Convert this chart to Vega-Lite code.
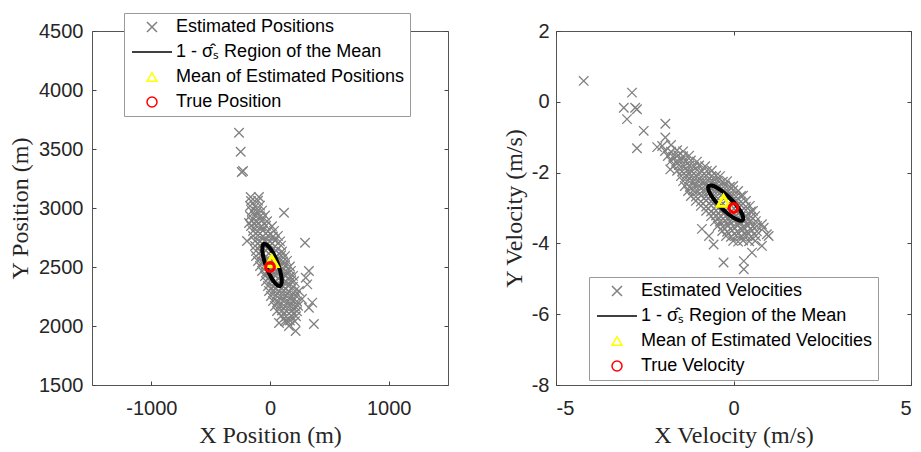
{
  "$schema": "https://vega.github.io/schema/vega-lite/v6.json",
  "autosize": {"type": "pad"},
  "padding": {"left": 8, "top": 12, "right": 7, "bottom": 0},
  "bounds": "flush",
  "spacing": 108,
  "background": "white",
  "resolve": {"scale": {"stroke": "independent", "shape": "independent"}, "legend": {"stroke": "independent", "shape": "independent"}},
  "config": {
    "view": {"stroke": "#555555", "strokeWidth": 1},
    "axis": {"grid": false, "domain": false, "tickColor": "#444444", "tickSize": -4, "tickWidth": 1, "labelExpr": "'' + datum.value",
      "labelFont": "Liberation Sans", "labelFontSize": 20, "labelColor": "#262626", "labelPadding": 12,
      "titleFont": "Liberation Serif", "titleFontSize": 24, "titleFontWeight": "normal", "titleColor": "#262626"},
    "legend": {"labelFont": "Liberation Sans", "labelFontSize": 18, "labelColor": "#000000", "strokeColor": "#9a9a9a",
      "fillColor": "#ffffff", "padding": 5, "rowPadding": 7, "symbolOffset": 14, "labelOffset": 15, "cornerRadius": 0, "labelLimit": 400}
  },
  "datasets": {
    "pos": [
      {"x":-261,"y":3638},{"x":-247,"y":3477},{"x":-238,"y":3305},{"x":-227,"y":3313},{"x":-163,"y":3093},{"x":-93,"y":3093},{"x":118,"y":2960},{"x":295,"y":2706},{"x":328,"y":2466},{"x":301,"y":2409},{"x":314,"y":2353},{"x":356,"y":2198},{"x":328,"y":2155},{"x":370,"y":2017},{"x":216,"y":1958},{"x":146,"y":2043},{"x":244,"y":2297},{"x":269,"y":2229},{"x":160,"y":2000},{"x":76,"y":2026},{"x":-177,"y":2873},{"x":-194,"y":2720},
      {"x":-160,"y":3059},{"x":-101,"y":3062},
      {"x":-168,"y":3017},{"x":-126,"y":3012},{"x":-84,"y":3020},
      {"x":-152,"y":2974},{"x":-109,"y":2970},{"x":-67,"y":2978},
      {"x":-168,"y":2932},{"x":-126,"y":2935},{"x":-84,"y":2928},{"x":-42,"y":2936},
      {"x":-152,"y":2890},{"x":-109,"y":2885},{"x":-67,"y":2893},{"x":-25,"y":2888},
      {"x":-160,"y":2847},{"x":-118,"y":2850},{"x":-76,"y":2843},{"x":-34,"y":2849},{"x":17,"y":2845},
      {"x":-143,"y":2805},{"x":-101,"y":2800},{"x":-59,"y":2808},{"x":-17,"y":2803},{"x":34,"y":2806},
      {"x":-143,"y":2763},{"x":-101,"y":2768},{"x":-59,"y":2760},{"x":-17,"y":2765},{"x":25,"y":2759},{"x":67,"y":2764},
      {"x":-126,"y":2720},{"x":-84,"y":2716},{"x":-42,"y":2723},{"x":0,"y":2718},{"x":42,"y":2724},{"x":84,"y":2717},
      {"x":-126,"y":2678},{"x":-84,"y":2682},{"x":-42,"y":2675},{"x":0,"y":2680},{"x":42,"y":2676},{"x":93,"y":2681},
      {"x":-118,"y":2636},{"x":-76,"y":2632},{"x":-34,"y":2639},{"x":8,"y":2634},{"x":51,"y":2638},{"x":101,"y":2631},
      {"x":-118,"y":2593},{"x":-76,"y":2597},{"x":-34,"y":2590},{"x":8,"y":2595},{"x":51,"y":2591},{"x":93,"y":2598},{"x":126,"y":2592},
      {"x":-101,"y":2551},{"x":-59,"y":2547},{"x":-17,"y":2554},{"x":25,"y":2549},{"x":67,"y":2553},{"x":109,"y":2546},{"x":143,"y":2552},
      {"x":-84,"y":2508},{"x":-42,"y":2512},{"x":0,"y":2505},{"x":42,"y":2510},{"x":84,"y":2506},{"x":126,"y":2511},{"x":168,"y":2504},
      {"x":-67,"y":2466},{"x":-25,"y":2462},{"x":17,"y":2469},{"x":59,"y":2464},{"x":101,"y":2468},{"x":143,"y":2461},{"x":177,"y":2467},
      {"x":-42,"y":2424},{"x":0,"y":2420},{"x":42,"y":2427},{"x":84,"y":2422},{"x":126,"y":2426},{"x":168,"y":2419},{"x":194,"y":2425},
      {"x":-34,"y":2381},{"x":8,"y":2385},{"x":51,"y":2378},{"x":93,"y":2383},{"x":135,"y":2379},{"x":177,"y":2384},{"x":202,"y":2380},
      {"x":-17,"y":2339},{"x":25,"y":2335},{"x":67,"y":2342},{"x":109,"y":2337},{"x":152,"y":2341},{"x":194,"y":2334},
      {"x":-8,"y":2297},{"x":34,"y":2300},{"x":76,"y":2294},{"x":118,"y":2299},{"x":160,"y":2293},{"x":210,"y":2298},
      {"x":8,"y":2254},{"x":51,"y":2258},{"x":93,"y":2251},{"x":135,"y":2256},{"x":177,"y":2252},{"x":219,"y":2257},
      {"x":25,"y":2212},{"x":67,"y":2208},{"x":109,"y":2215},{"x":152,"y":2210},{"x":194,"y":2214},{"x":227,"y":2209},
      {"x":42,"y":2170},{"x":84,"y":2173},{"x":126,"y":2166},{"x":168,"y":2171},{"x":210,"y":2167},{"x":236,"y":2172},
      {"x":59,"y":2127},{"x":101,"y":2131},{"x":143,"y":2124},{"x":185,"y":2129},{"x":227,"y":2125},
      {"x":93,"y":2085},{"x":135,"y":2081},{"x":177,"y":2088},{"x":219,"y":2083},
      {"x":126,"y":2043},{"x":168,"y":2046},{"x":210,"y":2040}
    ],
    "posEll": [
      {"i":0,"x":84,"y":2339},{"i":1,"x":97,"y":2359},{"i":2,"x":98,"y":2404},{"i":3,"x":86,"y":2466},
      {"i":4,"x":64,"y":2535},{"i":5,"x":35,"y":2602},{"i":6,"x":3,"y":2656},{"i":7,"x":-27,"y":2688},
      {"i":8,"x":-50,"y":2695},{"i":9,"x":-63,"y":2675},{"i":10,"x":-64,"y":2630},{"i":11,"x":-52,"y":2568},
      {"i":12,"x":-30,"y":2499},{"i":13,"x":-1,"y":2432},{"i":14,"x":31,"y":2378},{"i":15,"x":61,"y":2346}
    ],
    "vel": [
      {"x":-4.22,"y":0.59},{"x":-2.86,"y":0.26},{"x":-3.09,"y":-0.17},{"x":-2.77,"y":-0.17},{"x":-3.0,"y":-0.49},{"x":-2.72,"y":-0.21},{"x":-2.53,"y":-0.82},{"x":-1.92,"y":-0.62},{"x":-2.72,"y":-1.31},{"x":-2.15,"y":-1.28},{"x":-1.92,"y":-1.01},{"x":-1.78,"y":-1.91},{"x":-0.56,"y":-4.03},{"x":-0.28,"y":-4.54},{"x":0.29,"y":-4.5},{"x":0.29,"y":-4.73},{"x":0.52,"y":-4.26},{"x":0.94,"y":-3.74},{"x":0.8,"y":-3.46},{"x":0.8,"y":-4.07},{"x":-0.69,"y":-3.79},{"x":-0.89,"y":-3.59},{"x":0.85,"y":-3.56},{"x":0.99,"y":-3.79},
      {"x":-2.01,"y":-1.25},{"x":-1.76,"y":-1.22},
      {"x":-1.93,"y":-1.39},{"x":-1.76,"y":-1.41},{"x":-1.59,"y":-1.37},{"x":-1.42,"y":-1.4},
      {"x":-1.85,"y":-1.53},{"x":-1.7,"y":-1.55},{"x":-1.56,"y":-1.51},{"x":-1.42,"y":-1.54},{"x":-1.25,"y":-1.52},
      {"x":-1.76,"y":-1.67},{"x":-1.62,"y":-1.69},{"x":-1.48,"y":-1.65},{"x":-1.34,"y":-1.68},{"x":-1.2,"y":-1.66},{"x":-1.03,"y":-1.69},
      {"x":-1.68,"y":-1.81},{"x":-1.54,"y":-1.79},{"x":-1.39,"y":-1.82},{"x":-1.25,"y":-1.8},{"x":-1.11,"y":-1.83},{"x":-0.97,"y":-1.8},{"x":-0.8,"y":-1.82},
      {"x":-1.59,"y":-1.95},{"x":-1.45,"y":-1.97},{"x":-1.31,"y":-1.94},{"x":-1.17,"y":-1.96},{"x":-1.03,"y":-1.93},{"x":-0.89,"y":-1.97},{"x":-0.75,"y":-1.95},{"x":-0.61,"y":-1.94},
      {"x":-1.48,"y":-2.1},{"x":-1.34,"y":-2.08},{"x":-1.2,"y":-2.11},{"x":-1.06,"y":-2.09},{"x":-0.92,"y":-2.12},{"x":-0.77,"y":-2.08},{"x":-0.63,"y":-2.11},{"x":-0.49,"y":-2.09},{"x":-0.38,"y":-2.1},
      {"x":-1.42,"y":-2.24},{"x":-1.28,"y":-2.22},{"x":-1.14,"y":-2.25},{"x":-1.0,"y":-2.23},{"x":-0.86,"y":-2.26},{"x":-0.72,"y":-2.22},{"x":-0.58,"y":-2.25},{"x":-0.44,"y":-2.23},{"x":-0.3,"y":-2.26},{"x":-0.18,"y":-2.24},
      {"x":-1.37,"y":-2.38},{"x":-1.23,"y":-2.4},{"x":-1.08,"y":-2.37},{"x":-0.94,"y":-2.39},{"x":-0.8,"y":-2.36},{"x":-0.66,"y":-2.4},{"x":-0.52,"y":-2.37},{"x":-0.38,"y":-2.39},{"x":-0.24,"y":-2.36},{"x":-0.1,"y":-2.4},{"x":-0.01,"y":-2.38},
      {"x":-1.28,"y":-2.52},{"x":-1.14,"y":-2.5},{"x":-1.0,"y":-2.53},{"x":-0.86,"y":-2.51},{"x":-0.72,"y":-2.54},{"x":-0.58,"y":-2.5},{"x":-0.44,"y":-2.53},{"x":-0.3,"y":-2.51},{"x":-0.15,"y":-2.54},{"x":-0.01,"y":-2.5},{"x":0.13,"y":-2.52},
      {"x":-1.2,"y":-2.66},{"x":-1.06,"y":-2.68},{"x":-0.92,"y":-2.65},{"x":-0.77,"y":-2.67},{"x":-0.63,"y":-2.64},{"x":-0.49,"y":-2.68},{"x":-0.35,"y":-2.65},{"x":-0.21,"y":-2.67},{"x":-0.07,"y":-2.64},{"x":0.07,"y":-2.68},{"x":0.21,"y":-2.66},{"x":0.27,"y":-2.65},
      {"x":-1.06,"y":-2.8},{"x":-0.92,"y":-2.82},{"x":-0.77,"y":-2.79},{"x":-0.63,"y":-2.81},{"x":-0.49,"y":-2.78},{"x":-0.35,"y":-2.82},{"x":-0.21,"y":-2.79},{"x":-0.07,"y":-2.81},{"x":0.07,"y":-2.78},{"x":0.21,"y":-2.82},{"x":0.35,"y":-2.8},
      {"x":-0.92,"y":-2.94},{"x":-0.77,"y":-2.96},{"x":-0.63,"y":-2.93},{"x":-0.49,"y":-2.95},{"x":-0.35,"y":-2.92},{"x":-0.21,"y":-2.96},{"x":-0.07,"y":-2.93},{"x":0.07,"y":-2.95},{"x":0.21,"y":-2.92},{"x":0.35,"y":-2.96},{"x":0.46,"y":-2.94},
      {"x":-0.77,"y":-3.08},{"x":-0.63,"y":-3.1},{"x":-0.49,"y":-3.07},{"x":-0.35,"y":-3.09},{"x":-0.21,"y":-3.06},{"x":-0.07,"y":-3.1},{"x":0.07,"y":-3.07},{"x":0.21,"y":-3.09},{"x":0.35,"y":-3.06},{"x":0.49,"y":-3.1},{"x":0.55,"y":-3.08},
      {"x":-0.63,"y":-3.23},{"x":-0.49,"y":-3.21},{"x":-0.35,"y":-3.24},{"x":-0.21,"y":-3.22},{"x":-0.07,"y":-3.25},{"x":0.07,"y":-3.21},{"x":0.21,"y":-3.24},{"x":0.35,"y":-3.22},{"x":0.49,"y":-3.25},{"x":0.61,"y":-3.23},
      {"x":-0.52,"y":-3.37},{"x":-0.38,"y":-3.39},{"x":-0.24,"y":-3.36},{"x":-0.1,"y":-3.38},{"x":0.04,"y":-3.35},{"x":0.18,"y":-3.39},{"x":0.32,"y":-3.36},{"x":0.46,"y":-3.38},{"x":0.63,"y":-3.37},
      {"x":-0.44,"y":-3.51},{"x":-0.3,"y":-3.53},{"x":-0.15,"y":-3.5},{"x":-0.01,"y":-3.52},{"x":0.13,"y":-3.49},{"x":0.27,"y":-3.53},{"x":0.41,"y":-3.5},{"x":0.55,"y":-3.52},{"x":0.66,"y":-3.51},
      {"x":-0.32,"y":-3.65},{"x":-0.18,"y":-3.67},{"x":-0.04,"y":-3.64},{"x":0.1,"y":-3.66},{"x":0.24,"y":-3.63},{"x":0.38,"y":-3.67},{"x":0.52,"y":-3.64},{"x":0.66,"y":-3.66},
      {"x":-0.21,"y":-3.79},{"x":-0.07,"y":-3.81},{"x":0.07,"y":-3.78},{"x":0.21,"y":-3.8},{"x":0.35,"y":-3.77},{"x":0.49,"y":-3.81},{"x":0.63,"y":-3.79},
      {"x":-0.01,"y":-3.93},{"x":0.13,"y":-3.95},{"x":0.27,"y":-3.92},{"x":0.44,"y":-3.94},{"x":0.61,"y":-3.93}
    ],
    "velEll": [
      {"i":0,"x":0.256,"y":-3.341},{"i":1,"x":0.27,"y":-3.255},{"i":2,"x":0.209,"y":-3.109},{"i":3,"x":0.083,"y":-2.925},
      {"i":4,"x":-0.09,"y":-2.731},{"i":5,"x":-0.282,"y":-2.556},{"i":6,"x":-0.465,"y":-2.428},{"i":7,"x":-0.61,"y":-2.366},
      {"i":8,"x":-0.696,"y":-2.379},{"i":9,"x":-0.71,"y":-2.465},{"i":10,"x":-0.649,"y":-2.611},{"i":11,"x":-0.523,"y":-2.795},
      {"i":12,"x":-0.35,"y":-2.989},{"i":13,"x":-0.158,"y":-3.164},{"i":14,"x":0.025,"y":-3.292},{"i":15,"x":0.17,"y":-3.354}
    ],
    "posMean": [{"x":15,"y":2550}],
    "posTrue": [{"x":0,"y":2500}],
    "velMean": [{"x":-0.28,"y":-2.8}],
    "velTrue": [{"x":0,"y":-3}]
  },
  "hconcat": [
    {
      "width": 356, "height": 354,
      "resolve": {"axis": {"x": "independent", "y": "independent"}},
      "layer": [
        {
          "data": {"name": "pos"},
          "mark": {"type": "point", "filled": false, "strokeWidth": 1.3, "size": 90, "opacity": 1},
          "encoding": {
            "x": {"field": "x", "type": "quantitative", "scale": {"domain": [-1500, 1500], "nice": false, "zero": false},
              "axis": {"orient": "bottom", "values": [-1000, 0, 1000], "title": "X Position (m)", "titlePadding": 5, "labelPadding": 17}},
            "y": {"field": "y", "type": "quantitative", "scale": {"domain": [1500, 4500], "nice": false, "zero": false},
              "axis": {"orient": "left", "values": [1500, 2000, 2500, 3000, 3500, 4000, 4500], "title": "Y Position (m)", "titlePadding": 6, "labelPadding": 13}},
            "stroke": {"datum": "Estimated Positions", "type": "nominal",
              "scale": {"domain": ["Estimated Positions", "1 - σ̂ₛ Region of the Mean", "Mean of Estimated Positions", "True Position"], "range": ["#808080", "#000000", "#ffff00", "#ff0000"]},
              "legend": {"orient": "none", "legendX": 32, "legendY": -18, "title": null}},
            "shape": {"datum": "Estimated Positions", "type": "nominal",
              "scale": {"domain": ["Estimated Positions", "1 - σ̂ₛ Region of the Mean", "Mean of Estimated Positions", "True Position"], "range": ["M-1,-1L1,1M-1,1L1,-1", "M-4,0L4,0", "triangle-up", "circle"]},
              "legend": {"orient": "none", "legendX": 32, "legendY": -18, "title": null}}
          }
        },
        {
          "data": {"name": "posEll"},
          "mark": {"type": "line", "strokeWidth": 4, "interpolate": "cardinal-closed"},
          "encoding": {
            "x": {"field": "x", "type": "quantitative", "scale": {"domain": [-1500, 1500], "nice": false, "zero": false},
              "axis": {"orient": "top", "values": [-1000, 0, 1000], "labels": false, "title": null}},
            "y": {"field": "y", "type": "quantitative", "scale": {"domain": [1500, 4500], "nice": false, "zero": false},
              "axis": {"orient": "right", "values": [1500, 2000, 2500, 3000, 3500, 4000, 4500], "labels": false, "title": null}},
            "order": {"field": "i"},
            "stroke": {"datum": "1 - σ̂ₛ Region of the Mean", "type": "nominal"}
          }
        },
        {
          "data": {"name": "posMean"},
          "mark": {"type": "point", "filled": false, "strokeWidth": 3, "size": 150, "opacity": 1},
          "encoding": {
            "x": {"field": "x", "type": "quantitative", "scale": {"domain": [-1500, 1500], "nice": false, "zero": false}, "axis": null},
            "y": {"field": "y", "type": "quantitative", "scale": {"domain": [1500, 4500], "nice": false, "zero": false}, "axis": null},
            "stroke": {"datum": "Mean of Estimated Positions", "type": "nominal"},
            "shape": {"datum": "Mean of Estimated Positions", "type": "nominal"}
          }
        },
        {
          "data": {"name": "posTrue"},
          "mark": {"type": "point", "filled": false, "strokeWidth": 3.2, "size": 75, "opacity": 1},
          "encoding": {
            "x": {"field": "x", "type": "quantitative", "scale": {"domain": [-1500, 1500], "nice": false, "zero": false}, "axis": null},
            "y": {"field": "y", "type": "quantitative", "scale": {"domain": [1500, 4500], "nice": false, "zero": false}, "axis": null},
            "stroke": {"datum": "True Position", "type": "nominal"},
            "shape": {"datum": "True Position", "type": "nominal"}
          }
        }
      ]
    },
    {
      "width": 355, "height": 354,
      "resolve": {"axis": {"x": "independent", "y": "independent"}},
      "layer": [
        {
          "data": {"name": "vel"},
          "mark": {"type": "point", "filled": false, "strokeWidth": 1.3, "size": 90, "opacity": 1},
          "encoding": {
            "x": {"field": "x", "type": "quantitative", "scale": {"domain": [-5, 5], "nice": false, "zero": false},
              "axis": {"orient": "bottom", "values": [-5, 0, 5], "title": "X Velocity (m/s)", "titlePadding": 5, "labelPadding": 17}},
            "y": {"field": "y", "type": "quantitative", "scale": {"domain": [-8, 2], "nice": false, "zero": false},
              "axis": {"orient": "left", "values": [-8, -6, -4, -2, 0, 2], "title": "Y Velocity (m/s)", "titlePadding": 5, "labelPadding": 11}},
            "stroke": {"datum": "Estimated Velocities", "type": "nominal",
              "scale": {"domain": ["Estimated Velocities", "1 - σ̂ₛ Region of the Mean", "Mean of Estimated Velocities", "True Velocity"], "range": ["#808080", "#000000", "#ffff00", "#ff0000"]},
              "legend": {"orient": "none", "legendX": 33, "legendY": 246, "title": null}},
            "shape": {"datum": "Estimated Velocities", "type": "nominal",
              "scale": {"domain": ["Estimated Velocities", "1 - σ̂ₛ Region of the Mean", "Mean of Estimated Velocities", "True Velocity"], "range": ["M-1,-1L1,1M-1,1L1,-1", "M-4,0L4,0", "triangle-up", "circle"]},
              "legend": {"orient": "none", "legendX": 33, "legendY": 246, "title": null}}
          }
        },
        {
          "data": {"name": "velEll"},
          "mark": {"type": "line", "strokeWidth": 4, "interpolate": "cardinal-closed"},
          "encoding": {
            "x": {"field": "x", "type": "quantitative", "scale": {"domain": [-5, 5], "nice": false, "zero": false},
              "axis": {"orient": "top", "values": [-5, 0, 5], "labels": false, "title": null}},
            "y": {"field": "y", "type": "quantitative", "scale": {"domain": [-8, 2], "nice": false, "zero": false},
              "axis": {"orient": "right", "values": [-8, -6, -4, -2, 0, 2], "labels": false, "title": null}},
            "order": {"field": "i"},
            "stroke": {"datum": "1 - σ̂ₛ Region of the Mean", "type": "nominal"}
          }
        },
        {
          "data": {"name": "velMean"},
          "mark": {"type": "point", "filled": false, "strokeWidth": 3, "size": 150, "opacity": 1},
          "encoding": {
            "x": {"field": "x", "type": "quantitative", "scale": {"domain": [-5, 5], "nice": false, "zero": false}, "axis": null},
            "y": {"field": "y", "type": "quantitative", "scale": {"domain": [-8, 2], "nice": false, "zero": false}, "axis": null},
            "stroke": {"datum": "Mean of Estimated Velocities", "type": "nominal"},
            "shape": {"datum": "Mean of Estimated Velocities", "type": "nominal"}
          }
        },
        {
          "data": {"name": "velTrue"},
          "mark": {"type": "point", "filled": false, "strokeWidth": 3.2, "size": 75, "opacity": 1},
          "encoding": {
            "x": {"field": "x", "type": "quantitative", "scale": {"domain": [-5, 5], "nice": false, "zero": false}, "axis": null},
            "y": {"field": "y", "type": "quantitative", "scale": {"domain": [-8, 2], "nice": false, "zero": false}, "axis": null},
            "stroke": {"datum": "True Velocity", "type": "nominal"},
            "shape": {"datum": "True Velocity", "type": "nominal"}
          }
        }
      ]
    }
  ]
}
